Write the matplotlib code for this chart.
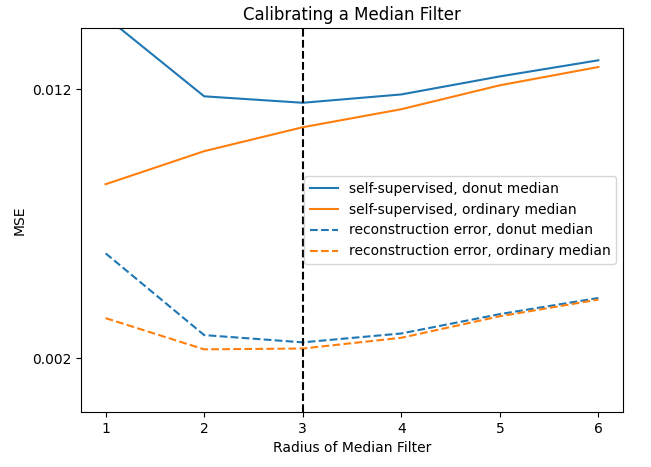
import matplotlib
matplotlib.use("Agg")
import matplotlib.pyplot as plt

radii = [1, 2, 3, 4, 5, 6]
ss_donut = [0.01470, 0.01174, 0.01150, 0.01181, 0.01248, 0.01308]
ss_ordinary = [0.00847, 0.00970, 0.01059, 0.01126, 0.01215, 0.01283]
rec_donut = [0.00590, 0.00286, 0.00259, 0.00292, 0.00364, 0.00424]
rec_ordinary = [0.00349, 0.00233, 0.00236, 0.00276, 0.00356, 0.00418]
yticks = [0.002, 0.012]

fig = plt.figure(figsize=(6.51, 4.67), dpi=100)
ax = fig.add_axes([0.1244, 0.1178, 0.8326, 0.8222])
ax.plot(radii, ss_donut, color="C0", label="self-supervised, donut median")
ax.plot(radii, ss_ordinary, color="C1", label="self-supervised, ordinary median")
ax.plot(radii, rec_donut, "--", color="C0", label="reconstruction error, donut median")
ax.plot(radii, rec_ordinary, "--", color="C1", label="reconstruction error, ordinary median")
ax.axvline(3, color="k", linestyle="--")
ax.set_ylim(0, 0.01428)
ax.set_yticks(yticks)
ax.set_yticklabels([str(v) for v in yticks])
ax.set_xlabel("Radius of Median Filter")
ax.set_ylabel("MSE")
ax.set_title("Calibrating a Median Filter")
ax.legend(loc="center right")
fig.savefig("out.png", dpi=100)
